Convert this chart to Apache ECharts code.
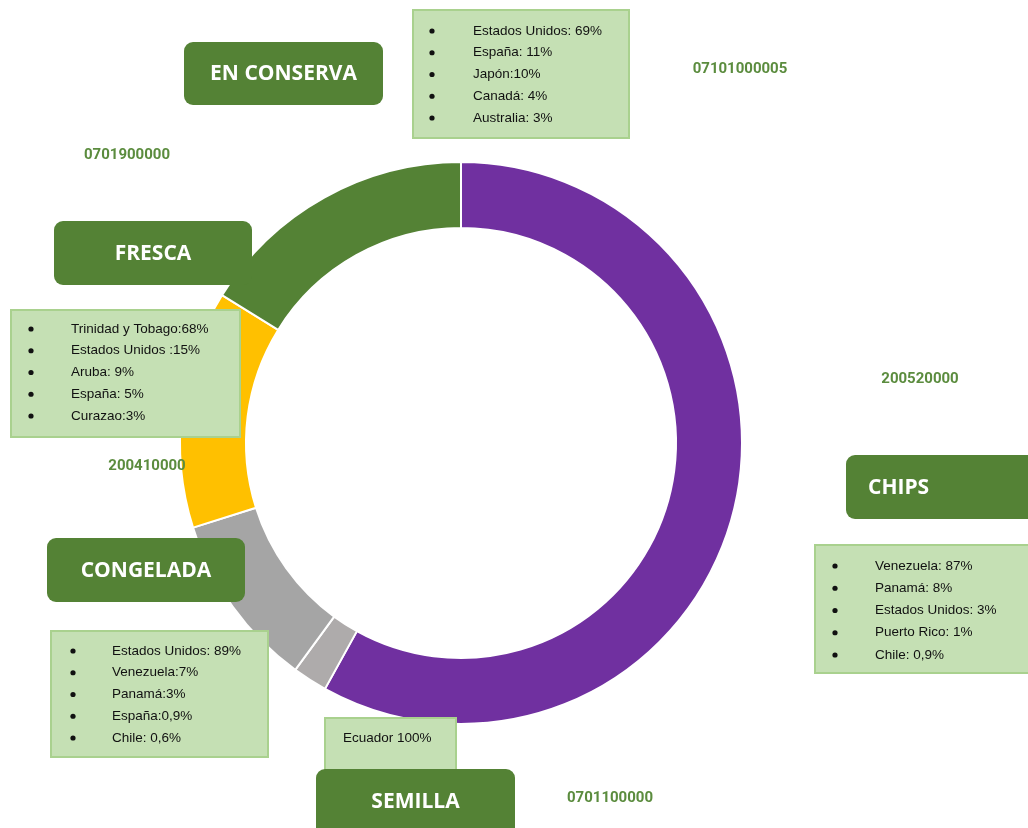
<!DOCTYPE html>
<html>
<head>
<meta charset="utf-8">
<script src="https://cdn.jsdelivr.net/npm/echarts@6/dist/echarts.min.js"></script>
<style>
  html, body { margin: 0; padding: 0; background: #fff; }
  #main { width: 1028px; height: 828px; }
</style>
</head>
<body>
<div id="main"></div>
<script>
// datos del gráfico (participación por tipo de papa)
const categories = ['CHIPS', 'SEMILLA', 'CONGELADA', 'FRESCA', 'EN CONSERVA'];
const codes = ['200520000', '0701100000', '200410000', '0701900000', '07101000005'];
const shares = [58.1, 2.0, 10.1, 13.7, 16.2];
const sliceColors = ['#7030A0', '#AEABAB', '#A5A5A5', '#FFC000', '#548235'];

// destinos por categoría
const chipsDestinos = ['Venezuela: 87%', 'Panamá: 8%', 'Estados Unidos: 3%', 'Puerto Rico: 1%', 'Chile: 0,9%'];
const semillaDestinos = ['Ecuador 100%'];
const congeladaDestinos = ['Estados Unidos: 89%', 'Venezuela:7%', 'Panamá:3%', 'España:0,9%', 'Chile: 0,6%'];
const frescaDestinos = ['Trinidad y Tobago:68%', 'Estados Unidos :15%', 'Aruba: 9%', 'España: 5%', 'Curazao:3%'];
const conservaDestinos = ['Estados Unidos: 69%', 'España: 11%', 'Japón:10%', 'Canadá: 4%', 'Australia: 3%'];

const darkGreen = '#548235';
const boxFill = '#C5E0B4';
const boxBorder = '#A9D18E';

// etiqueta verde oscura con texto blanco
function tag(text, x, y, w, h, tx) {
  return {
    type: 'group', z: 100,
    children: [
      { type: 'rect', z: 100, shape: { x: x, y: y, width: w, height: h, r: 9 },
        style: { fill: darkGreen } },
      { type: 'text', z: 101,
        style: { text: text, x: tx !== undefined ? tx : x + w / 2, y: y + Math.min(h, 64) / 2 + 1,
          fill: '#fff', font: '700 21px "Open Sans", sans-serif',
          align: tx !== undefined ? 'left' : 'center', verticalAlign: 'middle' } }
    ]
  };
}

// caja de lista con viñetas
function listBox(items, x, y, w, h, firstY, step, bulletX, textX) {
  const kids = [
    { type: 'rect', z: 100, shape: { x: x, y: y, width: w, height: h },
      style: { fill: boxFill, stroke: boxBorder, lineWidth: 2 } }
  ];
  items.forEach(function (t, i) {
    const ry = firstY + i * step;
    if (bulletX !== null) {
      kids.push({ type: 'circle', z: 101, shape: { cx: bulletX, cy: ry, r: 2.6 },
        style: { fill: '#111' } });
    }
    kids.push({ type: 'text', z: 101,
      style: { text: t, x: textX, y: ry, fill: '#111',
        font: '13.5px "Liberation Sans", Arial, sans-serif',
        align: 'left', verticalAlign: 'middle' } });
  });
  return { type: 'group', z: 100, children: kids };
}

function codeText(text, cx, cy) {
  return { type: 'text', z: 100,
    style: { text: text, x: cx, y: cy, fill: '#5B8C3E',
      font: '700 15px Roboto, sans-serif', align: 'center', verticalAlign: 'middle' } };
}

const chart = echarts.init(document.getElementById('main'));

const option = {
  backgroundColor: '#fff',
  animation: false,
  series: [{
    type: 'pie',
    center: [461, 443],
    radius: [215, 281],
    startAngle: 90,
    clockwise: true,
    label: { show: false },
    labelLine: { show: false },
    emphasis: { disabled: true },
    itemStyle: { borderColor: '#fff', borderWidth: 2 },
    data: categories.map(function (c, i) {
      return { name: c, value: shares[i], itemStyle: { color: sliceColors[i] } };
    })
  }],
  graphic: [
    // EN CONSERVA
    tag(categories[4], 184, 42, 199, 63),
    listBox(conservaDestinos, 413, 10, 216, 128, 31, 21.75, 432, 473),
    codeText(codes[4], 740, 69),
    // FRESCA
    codeText(codes[3], 127, 155),
    tag(categories[3], 54, 221, 198, 64),
    listBox(frescaDestinos, 11, 310, 229, 127, 329, 21.75, 31, 71),
    codeText(codes[2], 147, 466),
    // CONGELADA
    tag(categories[2], 47, 538, 198, 64),
    listBox(congeladaDestinos, 51, 631, 217, 126, 651, 21.75, 73, 112),
    // SEMILLA
    listBox(semillaDestinos, 325, 718, 131, 54, 738, 0, null, 343),
    tag(categories[1], 316, 769, 199, 70),
    codeText(codes[1], 610, 798),
    // CHIPS
    codeText(codes[0], 920, 379),
    tag(categories[0], 846, 455, 200, 64, 868),
    listBox(chipsDestinos, 815, 545, 230, 128, 566, 22.25, 835, 875)
  ]
};

chart.setOption(option);
</script>
</body>
</html>
